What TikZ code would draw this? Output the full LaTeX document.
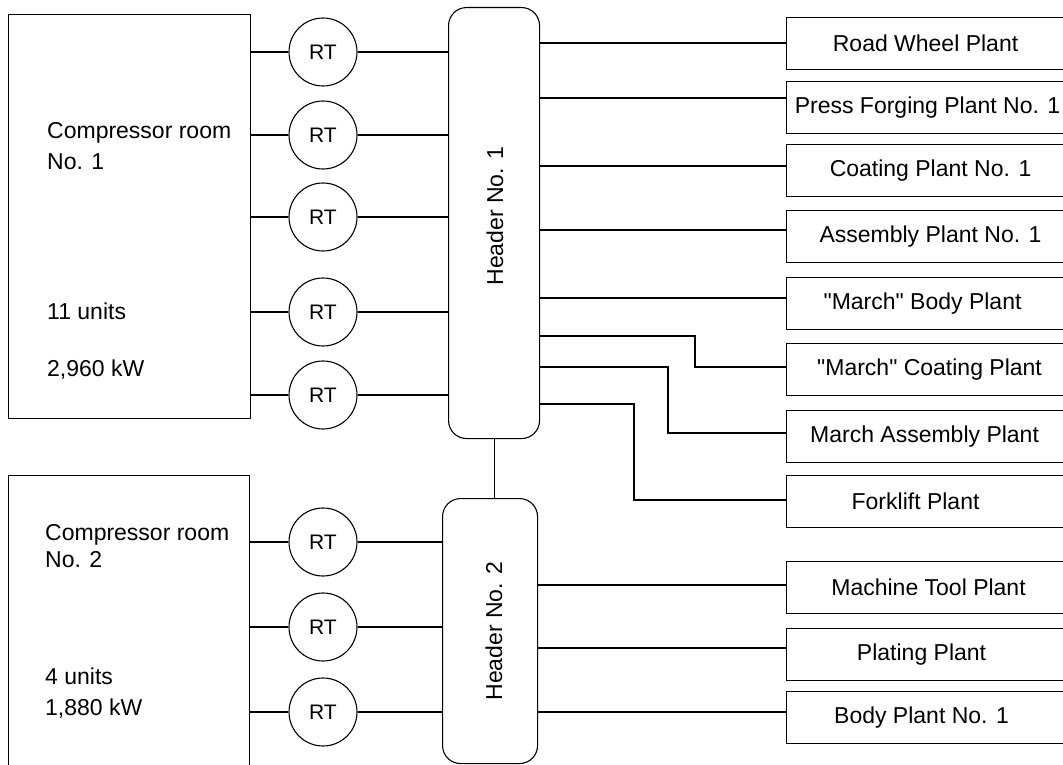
\documentclass[tikz,border=0pt]{standalone}
\usepackage{fontspec}
\setmainfont{Liberation Sans}
\begin{document}
\begin{tikzpicture}[x=1pt,y=-1pt,
  every node/.style={font=\fontsize{23}{27}\selectfont, inner sep=0pt},
  ln/.style={line width=1.1pt},
  roombox/.style={draw, line width=1.1pt, minimum width=242pt, anchor=north west},
  rtc/.style={draw, circle, minimum size=68pt, line width=1.1pt, font=\fontsize{21}{24}\selectfont},
  hdr/.style={draw, rounded corners=18pt, line width=1.1pt, anchor=north west},
  plant/.style={draw, line width=1.1pt, minimum width=300pt, minimum height=52pt, anchor=north west},
  lbl/.style={anchor=base west}
]
\useasboundingbox (0,0) rectangle (1063,765);
\fill[white] (0,0) rectangle (1063,765);

% compressor rooms
\node[roombox, minimum height=404pt] (cr1) at (8,14) {};
\node[roombox, minimum width=241pt, minimum height=310pt] (cr2) at (8,475) {};
\node[lbl] (c1a) at (47,139) {Compressor room};
\node[lbl] (c1b) at (47,169) {No. 1};
\node[lbl] (c1c) at (47,319) {11 units};
\node[lbl] (c1d) at (47,376) {2,960 kW};
\node[lbl] (c2a) at (45,540) {Compressor room};
\node[lbl] (c2b) at (45,567) {No. 2};
\node[lbl] (c2c) at (45,684) {4 units};
\node[lbl] (c2d) at (45,715) {1,880 kW};

% RT units
\node[rtc] (r1) at (323,52) {RT};
\node[rtc] (r2) at (323,135) {RT};
\node[rtc] (r3) at (323,217) {RT};
\node[rtc] (r4) at (323,312) {RT};
\node[rtc] (r5) at (323,395) {RT};
\node[rtc] (r6) at (323,542) {RT};
\node[rtc] (r7) at (323,627) {RT};
\node[rtc] (r8) at (323,712) {RT};

% headers
\node[hdr, minimum width=91pt, minimum height=431pt] (h1) at (448,7) {};
\node[rotate=90] (h1t) at (495,216) {Header No. 1};
\node[hdr, minimum width=95pt, minimum height=265pt] (h2) at (442,498) {};
\node[rotate=90] (h2t) at (494,631) {Header No. 2};
\draw[ln] (h1.south) -- (h1.south |- h2.north);

% room -> RT -> header
\foreach \r in {r1,r2,r3,r4,r5}{
  \draw[ln] (cr1.east |- \r) -- (\r);
  \draw[ln] (\r) -- (h1.west |- \r);
}
\foreach \r in {r6,r7,r8}{
  \draw[ln] (cr2.east |- \r) -- (\r);
  \draw[ln] (\r) -- (h2.west |- \r);
}

% plants
\node[plant] (p1) at (786,17) {};
\node[plant] (p2) at (786,81) {};
\node[plant] (p3) at (786,144) {};
\node[plant] (p4) at (786,210) {};
\node[plant] (p5) at (786,277) {};
\node[plant] (p6) at (786,343) {};
\node[plant] (p7) at (786,410) {};
\node[plant] (p8) at (786,475) {};
\node[plant] (p9) at (786,561) {};
\node[plant] (p10) at (786,628) {};
\node[plant] (p11) at (786,691) {};
\node (t1) at ([xshift=-11pt]p1.center) {Road Wheel Plant};
\node (t2) at ([xshift=-9pt]p2.center) {Press Forging Plant No. 1};
\node (t3) at ([xshift=-6pt]p3.center) {Coating Plant No. 1};
\node (t4) at ([xshift=-6pt]p4.center) {Assembly Plant No. 1};
\node (t5) at ([xshift=-14pt]p5.center) {\textquotedbl March\textquotedbl\ Body Plant};
\node (t6) at ([xshift=-7pt]p6.center) {\textquotedbl March\textquotedbl\ Coating Plant};
\node (t7) at ([xshift=-12pt]p7.center) {March Assembly Plant};
\node (t8) at ([xshift=-21pt]p8.center) {Forklift Plant};
\node (t9) at ([xshift=-8pt]p9.center) {Machine Tool Plant};
\node (t10) at ([xshift=-15pt]p10.center) {Plating Plant};
\node (t11) at ([xshift=-15pt]p11.center) {Body Plant No. 1};

% header -> plants
\draw[ln] (h1.east |- 0,43) -- (p1.west |- 0,43);
\draw[ln] (h1.east |- 0,98) -- (p2.west |- 0,98);
\draw[ln] (h1.east |- 0,166) -- (p3.west |- 0,166);
\draw[ln] (h1.east |- 0,230) -- (p4.west |- 0,230);
\draw[ln] (h1.east |- 0,298) -- (p5.west |- 0,298);
\draw[ln] (h1.east |- 0,336) -| (695,367) -- (p6.west |- 0,367);
\draw[ln] (h1.east |- 0,367) -| (668,433) -- (p7.west |- 0,433);
\draw[ln] (h1.east |- 0,404) -| (634,500) -- (p8.west |- 0,500);
\draw[ln] (h2.east |- 0,585) -- (p9.west |- 0,585);
\draw[ln] (h2.east |- 0,648) -- (p10.west |- 0,648);
\draw[ln] (h2.east |- 0,712) -- (p11.west |- 0,712);
\end{tikzpicture}
\end{document}
